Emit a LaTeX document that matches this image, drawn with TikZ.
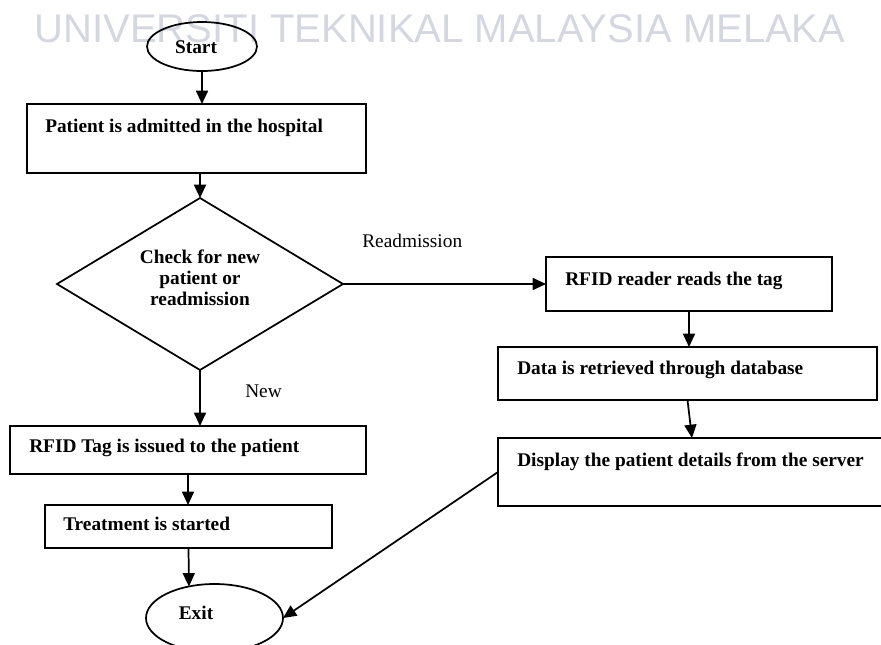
\documentclass[tikz,border=0pt]{standalone}
\usepackage{fontspec}
\setmainfont{Liberation Serif}
\newfontfamily\markfont{Liberation Sans}
\usetikzlibrary{shapes.geometric,arrows.meta}
\definecolor{markgray}{RGB}{212,215,226}
\begin{document}
\begin{tikzpicture}[x=0.75pt,y=-0.75pt,
  sz/.style 2 args={minimum width=#1*0.75pt,minimum height=#2*0.75pt},
  box/.style={draw,line width=1.3pt,rectangle,inner sep=0pt,outer sep=0pt},
  oval/.style={draw,line width=1.3pt,ellipse,inner sep=0pt,outer sep=0pt},
  decision/.style={draw,line width=1.3pt,diamond,aspect=1.66,inner sep=0pt,outer sep=0pt},
  txt/.style={anchor=base west,inner sep=0pt,font=\bfseries\fontsize{14.5}{15.75}\selectfont},
  ctxt/.style={txt,anchor=base,align=center},
  note/.style={anchor=base west,inner sep=0pt,font=\fontsize{14.5}{15.75}\selectfont},
  flow/.style={line width=1.3pt,-{Triangle[length=10pt,width=9pt]}}]

\useasboundingbox (0,0) rectangle (881,644);

% faint heading behind the chart
\node[anchor=base,inner sep=0pt,text=markgray,font=\markfont\fontsize{30}{36}\selectfont]
  (heading) at (440,42) {UNIVERSITI TEKNIKAL MALAYSIA MELAKA};

% terminals
\node[oval,sz={110}{49}] (start) at (202,46.5) {};
\node[ctxt] (starttext) at (196,53) {Start};
\node[oval,sz={137}{68}] (exit) at (214.5,618) {};
\node[ctxt] (exittext) at (196,619) {Exit};

% left column
\node[box,sz={339}{69}] (admit) at (196.5,138.5) {};
\node[txt] (admittext) at (45,132) {Patient is admitted in the hospital};

\node[decision,sz={286}{172}] (check) at (200,284) {};
\node[txt,anchor=center,align=center] (checktext) at (200,278) {Check for new\\patient or\\readmission};

\node[box,sz={356}{48}] (tag) at (188,450) {};
\node[txt] (tagtext) at (29,452) {RFID Tag is issued to the patient};

\node[box,sz={287}{43}] (treat) at (188.5,526.5) {};
\node[txt] (treattext) at (63,530) {Treatment is started};

% right column
\node[box,sz={286}{54}] (reader) at (689,284) {};
\node[txt] (readertext) at (565,285) {RFID reader reads the tag};

\node[box,sz={379}{53}] (data) at (687.5,373.5) {};
\node[txt] (datatext) at (517,374) {Data is retrieved through database};

\node[box,sz={388}{68}] (display) at (692,472) {};
\node[txt] (displaytext) at (517,466) {Display the patient details from the server};

% branch labels
\node[note] (readm) at (362,247) {Readmission};
\node[note] (new) at (245,397) {New};

% connectors
\draw[flow] (start.south) -- (start.south |- admit.north);
\draw[flow] (check.north |- admit.south) -- (check.north);
\draw[flow] (check.south) -- (check.south |- tag.north);
\draw[flow] (tag.south) -- (tag.south |- treat.north);
\draw[flow] (treat.south) -- (exit.129);
\draw[flow] (check.east) -- (reader.west);
\draw[flow] (reader.south) -- (reader.south |- data.north);
\draw[flow] (data.south) -- (display.north);
\draw[flow] (display.west) -- (exit.east);
\end{tikzpicture}
\end{document}
